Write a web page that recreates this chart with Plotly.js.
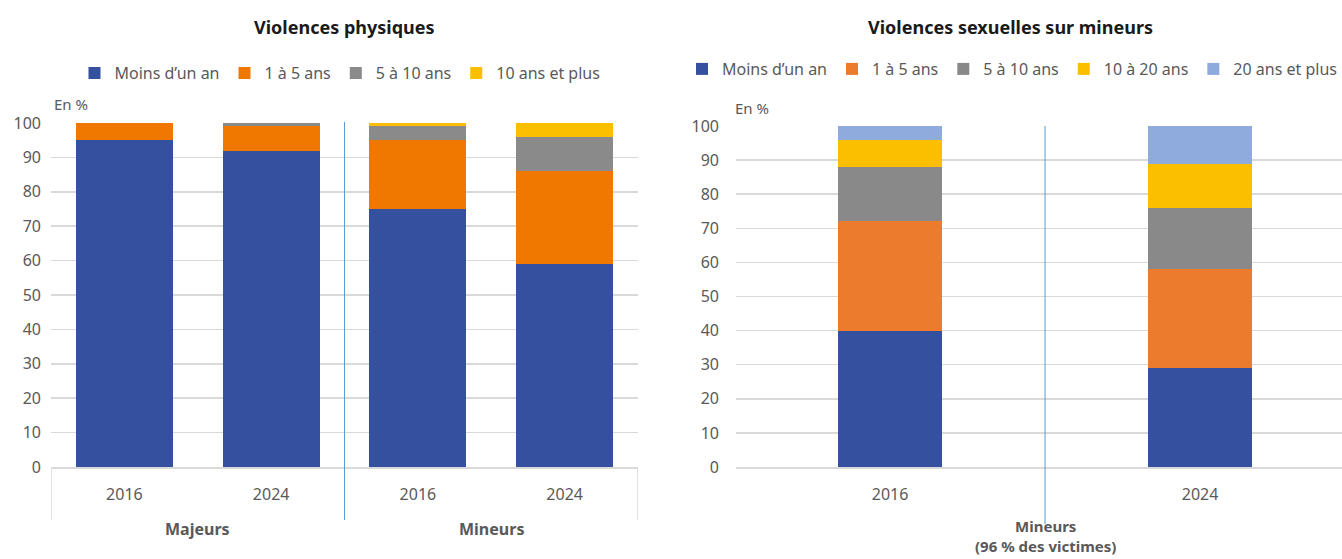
<!DOCTYPE html>
<html><head><meta charset="utf-8">
<script src="https://cdn.plot.ly/plotly-3.0.1.min.js"></script>
<style>html,body{margin:0;padding:0;background:#fff;overflow:hidden;width:1342px;height:559px}#chart{width:1342px;height:559px;overflow:hidden}</style>
</head><body><div id="chart"></div>
<script>
// Left chart: Violences physiques
const leftGroups = ['Majeurs','Majeurs','Mineurs','Mineurs'];
const leftYears = ['2016','2024','2016','2024'];
const leftMoinsUnAn = [95, 92, 75, 59];
const left1a5 = [5, 7, 20, 27];
const left5a10 = [0, 1, 4, 10];
const left10plus = [0, 0, 1, 4];
const leftNames = ['Moins d\u2019un an','1 à 5 ans','5 à 10 ans','10 ans et plus'];

// Right chart: Violences sexuelles sur mineurs
const rightGroups = ['Mineurs<br>(96 % des victimes)','Mineurs<br>(96 % des victimes)'];
const rightYears = ['2016','2024'];
const rightMoinsUnAn = [40, 29];
const right1a5 = [32, 29];
const right5a10 = [16, 18];
const right10a20 = [8, 13];
const right20plus = [4, 11];
const rightNames = ['Moins d\u2019un an','1 à 5 ans','5 à 10 ans','10 à 20 ans','20 ans et plus'];

const FONT = 'Noto Sans, sans-serif';
const TXT = '#595959';
const leftColors = ['#34509E','#F07800','#8A8A8A','#FBBF00'];
const rightColors = ['#34509E','#ED7B2E','#898989','#FBBF00','#8FAADC'];

const leftKeys = leftYears.map((y,i)=>leftGroups[i]+' '+y);
const rightKeys = rightYears.map((y,i)=>rightGroups[i]+' '+y);

const traces = [];
[leftMoinsUnAn, left1a5, left5a10, left10plus].forEach((v,i)=>{
  traces.push({type:'bar', x:leftKeys, y:v, name:leftNames[i],
    marker:{color:leftColors[i], line:{width:0}}, xaxis:'x', yaxis:'y', legend:'legend', hoverinfo:'skip'});
});
[rightMoinsUnAn, right1a5, right5a10, right10a20, right20plus].forEach((v,i)=>{
  traces.push({type:'bar', x:rightKeys, y:v, name:rightNames[i], width:0.335,
    marker:{color:rightColors[i], line:{width:0}}, xaxis:'x2', yaxis:'y2', legend:'legend2', hoverinfo:'skip'});
});

const H = 559, W = 1342;
const py = p => 1 - p/H;
const px = p => p/W;

// group spans (index ranges) derived from the group arrays
function groupSpans(groups){
  const spans = [];
  groups.forEach((g,i)=>{
    if(spans.length && spans[spans.length-1].name===g) spans[spans.length-1].end=i;
    else spans.push({name:g,start:i,end:i});
  });
  return spans;
}

const yax = (dom, anchor, standoff) => ({domain:dom, anchor:anchor, range:[0,100], dtick:10, tick0:0,
  showgrid:true, gridcolor:'#D9D9D9', gridwidth:1.5, zeroline:false, showline:false,
  tickfont:{family:FONT, size:16, color:TXT}, ticks:'', ticklabelstandoff:standoff, fixedrange:true});
const xax = (dom, anchor, range, keys, years) => ({domain:dom, anchor:anchor, type:'category', range:range,
  tickmode:'array', tickvals:keys, ticktext:years,
  showline:true, linecolor:'#D9D9D9', linewidth:1.5, showgrid:false, zeroline:false,
  tickfont:{family:FONT, size:16, color:TXT}, ticks:'', ticklabelstandoff:12, fixedrange:true});

const annotations = [
  {text:'<b>Violences physiques</b>', xref:'paper', yref:'paper', x:px(344), y:py(27), xanchor:'center', yanchor:'middle', showarrow:false, font:{family:FONT, size:18, color:'#1a1a1a'}},
  {text:'<b>Violences sexuelles sur mineurs</b>', xref:'paper', yref:'paper', x:px(1010), y:py(27), xanchor:'center', yanchor:'middle', showarrow:false, font:{family:FONT, size:18, color:'#1a1a1a'}},
  {text:'En %', xref:'paper', yref:'paper', x:px(52), y:py(104), xanchor:'left', yanchor:'middle', showarrow:false, font:{family:FONT, size:15, color:TXT}},
  {text:'En %', xref:'paper', yref:'paper', x:px(733), y:py(108), xanchor:'left', yanchor:'middle', showarrow:false, font:{family:FONT, size:15, color:TXT}}
];
const shapes = [];
const DIV = '#D9D9D9';
groupSpans(leftGroups).forEach(s=>{
  annotations.push({text:'<b>'+s.name+'</b>', xref:'x', yref:'paper', x:(s.start+s.end)/2, y:py(529), xanchor:'center', yanchor:'middle', showarrow:false, font:{family:FONT, size:16, color:TXT}});
});
groupSpans(rightGroups).forEach(s=>{
  annotations.push({text:'<b>'+s.name+'</b>', xref:'x2', yref:'paper', x:(s.start+s.end)/2, y:py(536), xanchor:'center', yanchor:'middle', showarrow:false, font:{family:FONT, size:15, color:TXT}});
});
// outer dividers
shapes.push({type:'line', xref:'x', yref:'paper', x0:-0.5, x1:-0.5, y0:py(467), y1:py(520), line:{color:DIV, width:1.5}});
shapes.push({type:'line', xref:'x', yref:'paper', x0:leftYears.length-0.5, x1:leftYears.length-0.5, y0:py(467), y1:py(520), line:{color:DIV, width:1.5}});
shapes.push({type:'line', xref:'x', yref:'paper', x0:1.5, x1:1.5, y0:py(520), y1:py(122), line:{color:'#5B9BD5', width:1}});
shapes.push({type:'line', xref:'x2', yref:'paper', x0:-0.5, x1:-0.5, y0:py(467), y1:py(545), line:{color:DIV, width:1.5}});
shapes.push({type:'line', xref:'x2', yref:'paper', x0:0.5, x1:0.5, y0:py(524), y1:py(126), line:{color:'#5B9BD5', width:1}});

const layout = {
  width:W, height:H, margin:{l:0,r:0,t:0,b:0,autoexpand:false},
  paper_bgcolor:'#fff', plot_bgcolor:'#fff',
  barmode:'stack',
  font:{family:FONT, color:TXT},
  xaxis: xax([px(51), px(638)], 'y', [-0.5,3.5], leftKeys, leftYears),
  yaxis: yax([py(467), py(123)], 'x', 9),
  xaxis2: xax([px(736), 1], 'y2', [-0.497,1.458], rightKeys, rightYears),
  yaxis2: yax([py(467), py(126)], 'x2', 16),
  bargap:0.34,
  showlegend:true,
  legend:{orientation:'h', x:px(340), xanchor:'center', y:py(73), yanchor:'middle',
    font:{family:FONT, size:16, color:TXT}, traceorder:'normal', itemwidth:30, bgcolor:'rgba(0,0,0,0)'},
  legend2:{orientation:'h', x:1, xanchor:'right', y:py(69), yanchor:'middle',
    font:{family:FONT, size:16, color:TXT}, traceorder:'normal', itemwidth:30, bgcolor:'rgba(0,0,0,0)'},
  annotations:annotations,
  shapes:shapes
};

Plotly.newPlot('chart', traces, layout, {displayModeBar:false, staticPlot:true});
</script></body></html>
